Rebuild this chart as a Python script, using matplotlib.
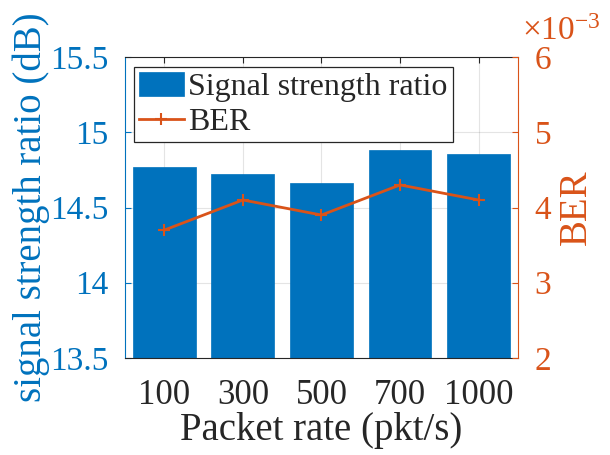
import matplotlib
matplotlib.use("Agg")
import matplotlib.pyplot as plt
import numpy as np

# Data
packet_rates = ["100", "300", "500", "700", "1000"]
signal_strength = [14.77, 14.72, 14.665, 14.88, 14.855]   # dB
ber = [3.70e-3, 4.10e-3, 3.90e-3, 4.30e-3, 4.10e-3]
left_ticks = [13.5, 14, 14.5, 15, 15.5]
right_ticks = [2e-3, 3e-3, 4e-3, 5e-3, 6e-3]

BLUE = (0, 0.447, 0.741)
ORANGE = (0.85, 0.325, 0.098)
DARK = (0.15, 0.15, 0.15)

plt.rcParams['font.family'] = ['Liberation Serif', 'DejaVu Serif']
plt.rcParams['mathtext.fontset'] = 'custom'
plt.rcParams['mathtext.rm'] = 'Liberation Serif'
plt.rcParams['mathtext.it'] = 'Liberation Serif:italic'

fig = plt.figure(figsize=(6.10, 4.55), dpi=100)
ax = fig.add_axes([0.205, 0.2132, 0.644, 0.6615])

x = np.arange(1, len(packet_rates) + 1)
bars = ax.bar(x, signal_strength, width=0.8, color=BLUE, edgecolor=BLUE,
              linewidth=0.5, label="Signal strength ratio", zorder=2)
ax.set_xlim(0.5, len(packet_rates) + 0.5)
ax.set_ylim(13.5, 15.5)
ax.set_yticks(left_ticks)
ax.set_yticklabels(["13.5", "14", "14.5", "15", "15.5"])
ax.set_xticks(x)
ax.set_xticklabels(packet_rates)
ax.set_xlabel("Packet rate (pkt/s)", fontsize=28, color=DARK, labelpad=0)
ax.set_ylabel("signal strength ratio (dB)", fontsize=28, color=BLUE, labelpad=0)

ax.grid(True, color=(0.15, 0.15, 0.15), alpha=0.12, linewidth=0.8, zorder=0)
ax.set_axisbelow(True)

ax.tick_params(axis='x', direction='in', length=4, width=0.8, colors=DARK,
               labelsize=25, top=True, pad=15)
ax.tick_params(axis='y', direction='in', length=4, width=0.8, colors=BLUE,
               labelsize=24, pad=12)
for s in ('top', 'bottom'):
    ax.spines[s].set_color(DARK)
    ax.spines[s].set_linewidth(0.8)
ax.spines['left'].set_color(BLUE)
ax.spines['right'].set_visible(False)

ax2 = ax.twinx()
line, = ax2.plot(x, ber, color=ORANGE, linewidth=2.0, marker='+',
                 markersize=9, markeredgewidth=1.5, label="BER", zorder=3)
ax2.set_ylim(2e-3, 6e-3)
ax2.set_yticks(right_ticks)
ax2.set_yticklabels(["2", "3", "4", "5", "6"])
ax2.set_ylabel("BER", fontsize=28, color=ORANGE, labelpad=5)
ax2.tick_params(axis='y', direction='in', length=4, width=0.8, colors=ORANGE,
                labelsize=24, pad=12)
ax2.spines['right'].set_color(ORANGE)
ax2.spines['right'].set_linewidth(0.8)
ax2.spines['left'].set_visible(False)
ax2.spines['top'].set_visible(False)
ax2.spines['bottom'].set_visible(False)
ax2.text(1.010, 1.056, "×10$^{-3}$", transform=ax2.transAxes,
         fontsize=24, color=ORANGE, ha='left', va='baseline')

leg = ax2.legend([bars, line], ["Signal strength ratio", "BER"],
                 loc='upper left', bbox_to_anchor=(0.023, 0.967),
                 fontsize=23, frameon=True, fancybox=False, framealpha=1,
                 edgecolor=DARK, borderpad=0.15, labelspacing=0.15,
                 handlelength=1.4, handleheight=0.8, handletextpad=0.15,
                 borderaxespad=0.0)
leg.get_frame().set_linewidth(0.9)
for t in leg.get_texts():
    t.set_color(DARK)

fig.savefig("out.png", dpi=100)
